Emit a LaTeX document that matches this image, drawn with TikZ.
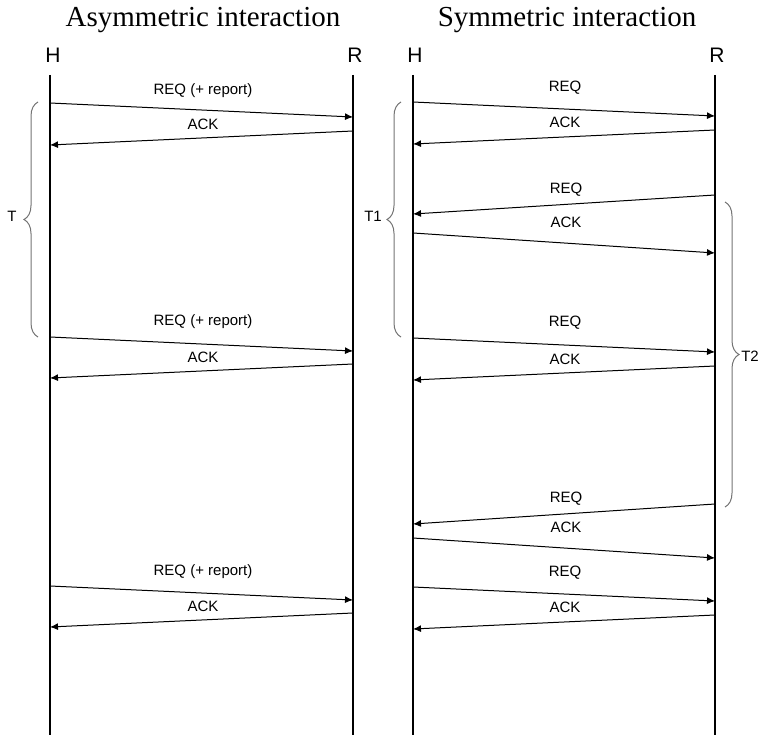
\documentclass[tikz,border=0pt]{standalone}
\usepackage{fontspec}
\setmainfont{Liberation Serif}
\setsansfont{Liberation Sans}
\usetikzlibrary{arrows.meta,decorations.pathreplacing}
\begin{document}
\begin{tikzpicture}[x=1pt,y=-1pt,
 life/.style={line width=1.2pt},
 msg/.style={line width=1pt,-{Latex[length=8pt,width=7pt]}},
 lbl/.style={font=\sffamily\fontsize{15}{18}\selectfont, inner sep=0pt},
 actor/.style={font=\sffamily\fontsize{21}{24}\selectfont, inner sep=0pt},
 ttl/.style={font=\fontsize{29}{32}\selectfont, inner sep=0pt},
 brc/.style={draw=black!55, line width=1pt, decorate, decoration={brace,amplitude=14pt}}]
\useasboundingbox (0,0) rectangle (760,735);

% titles
\node[ttl] (t1) at (203,20) {Asymmetric interaction};
\node[ttl] (t2) at (567,20) {Symmetric interaction};

% actors
\node[actor] (aH) at (53,55) {H};
\node[actor] (aR) at (355,55) {R};
\node[actor] (sH) at (415,55) {H};
\node[actor] (sR) at (717,55) {R};

% lifelines
\coordinate (aHt) at (50,75);  \coordinate (aHb) at (50,735);
\coordinate (aRt) at (353,75); \coordinate (aRb) at (353,735);
\coordinate (sHt) at (413,75); \coordinate (sHb) at (413,735);
\coordinate (sRt) at (715,75); \coordinate (sRb) at (715,735);
\draw[life] (aHt) -- (aHb);
\draw[life] (aRt) -- (aRb);
\draw[life] (sHt) -- (sHb);
\draw[life] (sRt) -- (sRb);

% ---- asymmetric messages
\coordinate (a1s) at (50,103);  \coordinate (a1e) at (353,117);
\coordinate (a2s) at (353,131); \coordinate (a2e) at (50,145);
\coordinate (a3s) at (50,337);  \coordinate (a3e) at (353,351);
\coordinate (a4s) at (353,364); \coordinate (a4e) at (50,378);
\coordinate (a5s) at (50,586);  \coordinate (a5e) at (353,600);
\coordinate (a6s) at (353,613); \coordinate (a6e) at (50,627);
\draw[msg] (a1s) -- (a1e);
\draw[msg] (a2s) -- (a2e);
\draw[msg] (a3s) -- (a3e);
\draw[msg] (a4s) -- (a4e);
\draw[msg] (a5s) -- (a5e);
\draw[msg] (a6s) -- (a6e);
\node[lbl] (la1) at (203,91) {REQ (+ report)};
\node[lbl] (la2) at (203,124) {ACK};
\node[lbl] (la3) at (203,322) {REQ (+ report)};
\node[lbl] (la4) at (203,357) {ACK};
\node[lbl] (la5) at (203,572) {REQ (+ report)};
\node[lbl] (la6) at (203,606) {ACK};

% ---- symmetric messages
\coordinate (s1s) at (413,102); \coordinate (s1e) at (715,116);
\coordinate (s2s) at (715,130); \coordinate (s2e) at (413,144);
\coordinate (s3s) at (715,195); \coordinate (s3e) at (413,214);
\coordinate (s4s) at (413,233); \coordinate (s4e) at (715,253);
\coordinate (s5s) at (413,338); \coordinate (s5e) at (715,352);
\coordinate (s6s) at (715,366); \coordinate (s6e) at (413,380);
\coordinate (s7s) at (715,504); \coordinate (s7e) at (413,524);
\coordinate (s8s) at (413,538); \coordinate (s8e) at (715,558);
\coordinate (s9s) at (413,587); \coordinate (s9e) at (715,601);
\coordinate (s10s) at (715,615); \coordinate (s10e) at (413,629);
\draw[msg] (s1s) -- (s1e);
\draw[msg] (s2s) -- (s2e);
\draw[msg] (s3s) -- (s3e);
\draw[msg] (s4s) -- (s4e);
\draw[msg] (s5s) -- (s5e);
\draw[msg] (s6s) -- (s6e);
\draw[msg] (s7s) -- (s7e);
\draw[msg] (s8s) -- (s8e);
\draw[msg] (s9s) -- (s9e);
\draw[msg] (s10s) -- (s10e);
\node[lbl] (ls1) at (565,88) {REQ};
\node[lbl] (ls2) at (565,122) {ACK};
\node[lbl] (ls3) at (566,190) {REQ};
\node[lbl] (ls4) at (566,222) {ACK};
\node[lbl] (ls5) at (565,323) {REQ};
\node[lbl] (ls6) at (565,359) {ACK};
\node[lbl] (ls7) at (566,499) {REQ};
\node[lbl] (ls8) at (566,527) {ACK};
\node[lbl] (ls9) at (565,573) {REQ};
\node[lbl] (ls10) at (565,607) {ACK};

% ---- braces
\coordinate (bTa) at (38,337); \coordinate (bTb) at (38,102);
\draw[brc] (bTa) -- (bTb);
\node[lbl] (lT) at (12,216) {T};
\coordinate (bT1a) at (401,337); \coordinate (bT1b) at (401,102);
\draw[brc] (bT1a) -- (bT1b);
\node[lbl] (lT1) at (373,216) {T1};
\coordinate (bT2a) at (725,202); \coordinate (bT2b) at (725,507);
\draw[brc] (bT2a) -- (bT2b);
\node[lbl] (lT2) at (750,356) {T2};
\end{tikzpicture}
\end{document}
